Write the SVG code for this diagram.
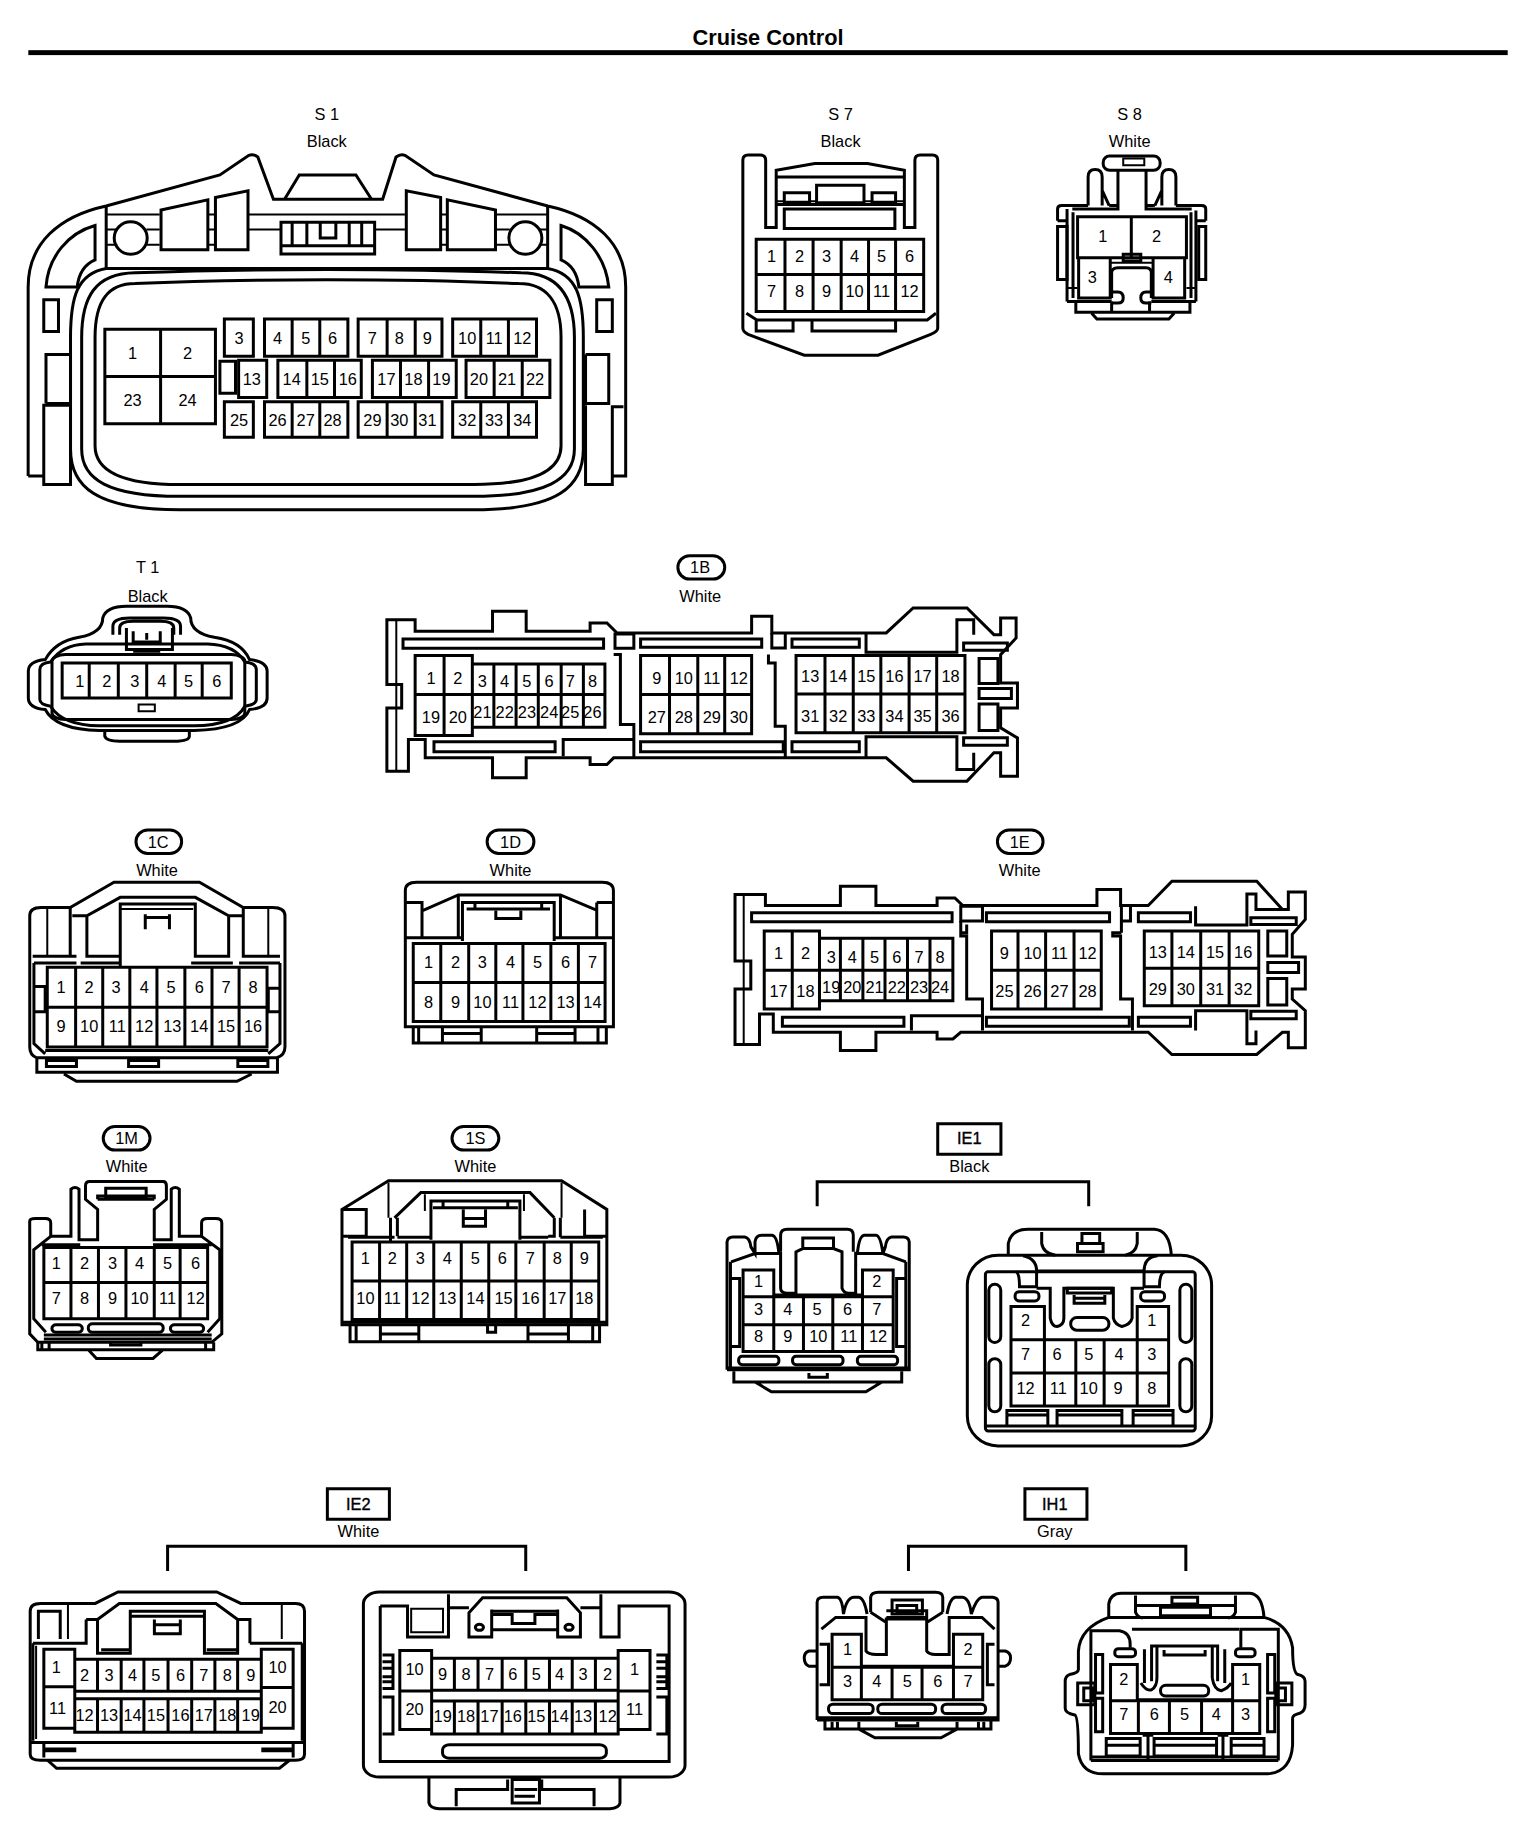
<svg xmlns="http://www.w3.org/2000/svg" width="1536" height="1838" viewBox="0 0 1536 1838">
<style>
path,rect,ellipse,circle{fill:none;stroke:#000;stroke-width:3;vector-effect:non-scaling-stroke}
.th{stroke-width:2}
.bg{fill:#fff;stroke:none}
text{font-family:"Liberation Sans",Arial,sans-serif;font-size:14px;text-anchor:middle;dominant-baseline:central;fill:#000}
.b{font-weight:bold;font-size:18.6px}
.tag{stroke:#000;stroke-width:.3px}
</style>
<rect class="bg" width="1536" height="1838"/>
<g transform="translate(1.4 0) scale(1.1704 1.1723)">
<g id="title"><text class="b" x="655" y="32">Cruise Control</text><rect x="23" y="42.800" width="1264" height="4.200" style="fill:#000;stroke:none"/></g>

<g id="S1">
<text x="278" y="97">S 1</text><text x="278" y="120">Black</text>
<g transform="matrix(.381 0 0 .288 0 0)">
<path d="M60 1410V850C60 720 130 640 235 610L490 518L555 460Q565 455 575 465L610 590H855L885 465Q895 455 905 460L970 518L1225 610C1330 640 1400 720 1400 850V1410H1370V1435H1310V1200M1310 1050V1195H1362V1050H1310M60 1410H95V1435H155V1200H95V1410M100 1195V1050H155V1195H100M1370 1200V1410M1370 1205H1395"/>
<path d="M235 610V795H1225V610"/>
<path class="th" d="M235 635H355M465 635H480M555 635H905M985 635H1000M1110 635H1225M235 680H260M325 680H355M465 680H480M555 680H625M840 680H905M985 680H1000M1110 680H1140M1205 680H1225M235 725H260M325 725H355M465 725H480M985 725H1000M1110 725H1140M1205 725H1225"/>
<ellipse cx="290" cy="705" rx="37" ry="48"/><ellipse cx="1175" cy="705" rx="37" ry="48"/>
<path d="M358 622L463 592V740H358ZM480 585L553 565V740H480ZM1108 622L1000 592V740H1108ZM985 585L908 565V740H985ZM635 590L668 518H795L830 590"/>
<path d="M627 658H837V752H627ZM627 728H837M652 658V728M685 658V728M780 658V728M808 658V728M715 658V705H750V658"/>
<path d="M210 668V770Q175 790 170 850H100C105 760 150 690 210 668ZM1255 668V770Q1290 790 1295 850H1362C1355 760 1310 690 1255 668Z"/>
<path d="M235 795C170 810 155 880 155 1000V1330C155 1440 210 1510 400 1510H1060C1250 1510 1305 1440 1305 1330V1000C1305 880 1290 810 1225 795"/>
<path d="M300 808C210 810 180 880 180 1000V1330C180 1420 240 1470 400 1470H1060C1220 1470 1285 1420 1285 1330V1000C1285 880 1250 808 1165 808C900 795 560 795 300 808Z"/>
<path d="M300 840C240 840 210 890 210 1000V1320C210 1390 260 1435 400 1435H1060C1200 1435 1255 1390 1255 1320V1000C1255 890 1220 840 1160 840C900 825 560 825 300 840Z"/>
<rect x="95" y="888" width="33" height="94"/><rect x="1335" y="888" width="35" height="94"/>
<path d="M232 975H480V1255H232ZM357 975V1255M232 1115H480"/>
<path d="M500 945H565V1055H500ZM590 945H777V1055H590ZM652 945V1055M714 945V1055M800 945H988V1055H800ZM865 945V1055M928 945V1055M1012 945H1200V1055H1012ZM1075 945V1055M1137 945V1055"/>
<path d="M490 1070H525V1165H490ZM532 1067H595V1177H532ZM620 1067H807V1177H620ZM685 1067V1177M747 1067V1177M832 1067H1020V1177H832ZM895 1067V1177M958 1067V1177M1042 1067H1230V1177H1042ZM1105 1067V1177M1168 1067V1177"/>
<path d="M500 1190H565V1295H500ZM590 1190H777V1295H590ZM652 1190V1295M714 1190V1295M800 1190H988V1295H800ZM865 1190V1295M928 1190V1295M1012 1190H1200V1295H1012ZM1075 1190V1295M1137 1190V1295"/>
</g>
<text x="112" y="301">1</text><text x="159" y="301">2</text><text x="112" y="341">23</text><text x="159" y="341">24</text>
<text x="203" y="288">3</text><text x="236" y="288">4</text><text x="260" y="288">5</text><text x="283" y="288">6</text><text x="317" y="288">7</text><text x="340" y="288">8</text><text x="364" y="288">9</text><text x="398" y="288">10</text><text x="421" y="288">11</text><text x="445" y="288">12</text>
<text x="214" y="323">13</text><text x="248" y="323">14</text><text x="272" y="323">15</text><text x="296" y="323">16</text><text x="329" y="323">17</text><text x="352" y="323">18</text><text x="376" y="323">19</text><text x="408" y="323">20</text><text x="432" y="323">21</text><text x="456" y="323">22</text>
<text x="203" y="358">25</text><text x="236" y="358">26</text><text x="260" y="358">27</text><text x="283" y="358">28</text><text x="317" y="358">29</text><text x="340" y="358">30</text><text x="364" y="358">31</text><text x="398" y="358">32</text><text x="421" y="358">33</text><text x="445" y="358">34</text>
</g>

<g id="S7">
<text x="717" y="97">S 7</text><text x="717" y="120">Black</text>
<g transform="matrix(.3 0 0 .287 596 67.7)">
<path d="M125 740V240Q125 225 140 225H175Q190 225 190 240V440H220V270L330 250H480L585 270V440H615V240Q615 225 630 225H665Q680 225 680 240V740Q680 750 660 758L510 820H300L140 758Q125 750 125 740Z"/>
<path d="M220 290H585M220 372H585"/>
<path class="th" d="M220 362H240M315 362H335M470 362H490M560 362H585"/>
<rect x="243" y="337" width="72" height="28"/><rect x="335" y="315" width="135" height="52"/><rect x="493" y="337" width="67" height="28"/><rect x="243" y="385" width="315" height="58"/>
<path d="M163 475H640V690H163ZM163 580H640M245 475V690M325 475V690M405 475V690M483 475V690M560 475V690"/>
<path d="M135 695L165 715H650L675 695M163 715V748H268V715M322 715V748H560V715"/>
</g>
<text x="658" y="218">1</text><text x="682" y="218">2</text><text x="705" y="218">3</text><text x="729" y="218">4</text><text x="752" y="218">5</text><text x="776" y="218">6</text>
<text x="658" y="248">7</text><text x="682" y="248">8</text><text x="705" y="248">9</text><text x="729" y="248">10</text><text x="752" y="248">11</text><text x="776" y="248">12</text>
</g>

<g id="S8">
<text x="964" y="97">S 8</text><text x="964" y="120">White</text>
<g transform="matrix(.3 0 0 .287 597 67.7)">
<rect x="1148" y="228" width="162" height="42" rx="18"/><rect class="th" x="1205" y="235" width="60" height="20"/>
<path d="M1190 270V385H1060M1270 270V385H1400M1105 375V290Q1105 268 1125 268Q1145 268 1145 290V375M1355 375V290Q1355 268 1335 268Q1315 268 1315 290V375M1165 375L1145 330M1295 375L1315 330"/>
<path d="M1018 420V385Q1018 375 1030 375H1105M1165 375H1190M1440 420V385Q1440 375 1428 375H1355M1270 375H1295M1018 420H1045M1440 420H1412"/>
<rect x="1018" y="437" width="27" height="158"/><rect x="1420" y="437" width="20" height="158"/>
<path d="M1045 385V660M1062 395V650M1412 390V660M1398 395V650"/>
<path d="M1075 408H1385V530H1075ZM1228 408V530M1078 530V650H1168V530M1290 530V650H1380V530"/>
<rect x="1205" y="520" width="50" height="20"/>
<path d="M1172 650V575Q1172 560 1190 560H1270Q1285 560 1285 575V650M1172 632H1190Q1205 632 1205 650Q1205 665 1190 665H1172M1285 632H1270Q1255 632 1255 650Q1255 665 1270 665H1285"/>
<path class="th" d="M1168 545H1290M1045 620H1075M1412 620H1385"/>
<path d="M1045 660H1172M1285 660H1412M1070 665V692H1395V665M1115 695L1130 712H1335L1350 695M1172 660V692M1280 660V692"/>
</g>
<text x="941" y="201">1</text><text x="987" y="201">2</text><text x="932" y="236">3</text><text x="997" y="236">4</text>
</g>

<g id="T1">
<text x="125" y="484">T 1</text><text x="125" y="508">Black</text>
<g transform="matrix(.578 0 0 .284 -3 459)">
<path d="M155 240Q160 205 190 205H250Q280 205 285 240Q285 285 320 298Q360 310 372 365Q398 370 398 400V480Q398 510 372 515Q360 575 290 578H150Q85 575 70 515Q45 510 45 480V400Q45 370 70 365Q85 310 120 298Q155 285 155 240Z"/>
<path d="M158 580V595Q160 610 180 610H260Q283 610 283 595V580"/>
<path d="M62 395Q62 375 78 372Q95 320 130 318H310Q350 320 365 372Q382 375 382 395V485Q382 500 365 505Q350 562 290 564H150Q95 562 78 505Q62 500 62 485Z"/>
<rect x="80" y="350" width="285" height="195" rx="20"/>
<path d="M95 375H345V480H95ZM135 375V480M178 375V480M220 375V480M262 375V480M302 375V480"/>
<rect class="th" x="208" y="500" width="24" height="20"/>
<path d="M170 290V265Q170 240 195 240H245Q270 240 270 265V290M180 290V270Q180 250 200 250H240Q260 250 260 270V290M190 270V335H258V270M200 280V312H240V280M220 285V305M200 340H240"/>
</g>
<text x="67" y="581">1</text><text x="90" y="581">2</text><text x="114" y="581">3</text><text x="137" y="581">4</text><text x="160" y="581">5</text><text x="184" y="581">6</text>
</g>

<g id="C1B">
<rect x="578" y="474" width="40" height="20" rx="10"/><text x="597" y="484">1B</text><text x="597" y="508">White</text>
<g transform="matrix(.575 0 0 .284 -3 459)">
<path d="M578 245H620V280H735V220H785V280H880V255H905L920 285H1120V235H1150V285H1320L1360 210H1440L1480 290H1490V240H1513V300L1490 350V435H1515V510H1490V570L1515 600V715H1490V645H1480L1440 730H1360L1320 660H915L905 680H880V660H785V720H735V660H635V605H610V700H578V510H600V440H578Z"/>
<path class="th" d="M592 245V700"/>
<rect x="602" y="303" width="298" height="28"/><rect x="955" y="303" width="180" height="25"/><rect x="1180" y="303" width="100" height="25"/>
<rect x="648" y="612" width="180" height="30"/><rect x="955" y="612" width="212" height="30"/><rect x="1180" y="612" width="100" height="30"/>
<path d="M1290 285V343H1425V245H1450V290M1290 660V597H1425V695H1450V645"/>
<rect x="1435" y="315" width="65" height="22"/><rect x="1435" y="600" width="65" height="22"/>
<rect x="917" y="288" width="28" height="43"/>
<path d="M915 350H925V560H945V660M1150 285V330H1170V285M1145 350V375H1155V565H1170V660M840 655V605H945"/>
<rect x="1458" y="362" width="28" height="75"/><rect x="1458" y="452" width="48" height="30"/><rect x="1458" y="498" width="28" height="80"/>
<path d="M620 353H705V378H902V568H705V593H620ZM620 470H902M663 353V593M705 378V568M737 378V568M770 378V568M803 378V568M837 378V568M870 378V568"/>
<path d="M955 353H1120V588H955ZM955 470H1120M998 353V588M1040 353V588M1080 353V588"/>
<path d="M1186 353H1437V585H1186ZM1186 468H1437M1229 353V585M1271 353V585M1312 353V585M1354 353V585M1395 353V585"/>
</g>
<text x="367" y="578">1</text><text x="390" y="578">2</text><text x="367" y="612">19</text><text x="390" y="612">20</text>
<text x="411" y="581">3</text><text x="430" y="581">4</text><text x="449" y="581">5</text><text x="468" y="581">6</text><text x="486" y="581">7</text><text x="505" y="581">8</text>
<text x="411" y="607">21</text><text x="430" y="607">22</text><text x="449" y="607">23</text><text x="468" y="607">24</text><text x="486" y="607">25</text><text x="505" y="607">26</text>
<text x="560" y="578">9</text><text x="583" y="578">10</text><text x="607" y="578">11</text><text x="630" y="578">12</text>
<text x="560" y="612">27</text><text x="583" y="612">28</text><text x="607" y="612">29</text><text x="630" y="612">30</text>
<text x="691" y="577">13</text><text x="715" y="577">14</text><text x="739" y="577">15</text><text x="763" y="577">16</text><text x="787" y="577">17</text><text x="811" y="577">18</text>
<text x="691" y="611">31</text><text x="715" y="611">32</text><text x="739" y="611">33</text><text x="763" y="611">34</text><text x="787" y="611">35</text><text x="811" y="611">36</text>
</g>

<g id="C1C">
<rect x="115" y="708" width="39" height="20" rx="10"/><text x="134" y="718">1C</text><text x="133" y="742">White</text>
<g transform="matrix(.3563 0 0 .287 0 698)">
<path d="M68 680V290Q68 265 95 265H165L270 190H475L580 265H650Q680 265 680 290V680Q680 705 660 712H85Q68 705 68 680Z"/>
<path d="M85 712V755H662V712M150 760L180 782H565L600 760"/>
<rect x="108" y="720" width="72" height="18"/><rect x="305" y="720" width="72" height="18"/><rect x="567" y="720" width="72" height="18"/>
<path d="M165 265V410M75 410H180M170 290H205L285 235H465L545 290H580M205 290V410H285M285 440V255H465V410H545V290M580 265V410H668"/>
<path class="th" d="M110 265V410M640 265V410M285 270H460"/>
<path d="M345 285V330M403 285V330M345 295H403"/>
<path d="M78 430H180M190 430H285M455 430H555M570 430H668M78 430V670L105 700M668 430V670L640 700M78 500H105V575H78M668 505H640V575H668M105 690H640"/>
<path d="M110 443H637V680H110ZM110 562H637M178 443V680M243 443V680M308 443V680M373 443V680M440 443V680M505 443V680M570 443V680"/>
</g>
<text x="51" y="842">1</text><text x="75" y="842">2</text><text x="98" y="842">3</text><text x="122" y="842">4</text><text x="145" y="842">5</text><text x="169" y="842">6</text><text x="192" y="842">7</text><text x="215" y="842">8</text>
<text x="51" y="875">9</text><text x="75" y="875">10</text><text x="99" y="875">11</text><text x="122" y="875">12</text><text x="146" y="875">13</text><text x="169" y="875">14</text><text x="192" y="875">15</text><text x="215" y="875">16</text>
</g>

<g id="C1D">
<rect x="415" y="708" width="40" height="20" rx="10"/><text x="435" y="718">1D</text><text x="435" y="742">White</text>
<g transform="matrix(.3563 0 0 .287 2 698)">
<path d="M963 620V215Q963 190 990 190H1435Q1462 190 1462 215V620ZM963 250H1003V355M1003 275L1090 228H1335L1420 272M1422 250H1462M1422 250V355M963 355H1100M1320 355H1462M1090 228V355M1335 228V355M1100 365V250H1320V365M1110 270H1310M1130 250V270M1290 250V270M1180 275V298H1240V275"/>
<path d="M982 372H1442V604H982ZM982 488H1442M1048 372V604M1115 372V604M1180 372V604M1245 372V604M1312 372V604M1378 372V604"/>
<path d="M982 620V668H1445V620M995 620V668M1052 620V668M1145 620V668M1052 640H1145M1278 620V668M1370 620V668M1278 640H1370M1425 620V668"/>
</g>
<text x="365" y="821">1</text><text x="388" y="821">2</text><text x="411" y="821">3</text><text x="435" y="821">4</text><text x="458" y="821">5</text><text x="482" y="821">6</text><text x="505" y="821">7</text>
<text x="365" y="855">8</text><text x="388" y="855">9</text><text x="411" y="855">10</text><text x="435" y="855">11</text><text x="458" y="855">12</text><text x="482" y="855">13</text><text x="505" y="855">14</text>
</g>

<g id="C1E">
<rect x="851" y="708" width="39" height="20" rx="10"/><text x="870" y="718">1E</text><text x="870" y="742">White</text>
<g transform="matrix(.3372 0 0 .283 614 698)">
<path d="M38 230H115V263H305V205H395V263H550V240H595L615 263H955V215H1015V263H1085L1145 190H1360L1425 275H1440V222H1483V305L1450 350V418H1483V515H1450V545L1483 580V692H1440V645H1425L1360 712H1145L1085 645H610L590 665H550V645H395V700H305V645H135V590H100V682H38V515H78V430H38Z"/>
<path class="th" d="M60 230V682"/>
<rect x="80" y="285" width="508" height="27"/><rect x="675" y="285" width="312" height="27"/><rect x="1060" y="285" width="132" height="27"/>
<rect x="158" y="600" width="308" height="27"/><rect x="675" y="600" width="362" height="27"/><rect x="1060" y="600" width="132" height="27"/>
<rect x="610" y="265" width="55" height="45"/>
<path d="M1017 263V345M1040 263V310H1017M1205 265V322H1335V228H1358V275H1425M1205 640V580H1335V680H1358V640"/>
<rect x="1345" y="300" width="115" height="20"/><rect x="1345" y="582" width="115" height="22"/>
<path d="M610 310V355H625V545H665V640M625 320V345H610M1017 345H995V355H1015V545H1045V640M485 640V595H665"/>
<rect x="1388" y="340" width="48" height="75"/><rect x="1388" y="435" width="78" height="30"/><rect x="1388" y="483" width="48" height="80"/>
<path d="M112 340H252V362H590V550H252V575H112ZM112 458H590M183 340V575M252 362V550M305 362V550M362 362V550M418 362V550M475 362V550M532 362V550"/>
<path d="M688 340H966V575H688ZM688 458H966M755 340V575M825 340V575M897 340V575"/>
<path d="M1075 340H1365V565H1075ZM1075 452H1365M1145 340V565M1218 340V565M1290 340V565"/>
</g>
<text x="664" y="813">1</text><text x="687" y="813">2</text><text x="709" y="816">3</text><text x="727" y="816">4</text><text x="746" y="816">5</text><text x="765" y="816">6</text><text x="784" y="816">7</text><text x="802" y="816">8</text>
<text x="664" y="845">17</text><text x="687" y="845">18</text><text x="709" y="842">19</text><text x="727" y="842">20</text><text x="746" y="842">21</text><text x="765" y="842">22</text><text x="784" y="842">23</text><text x="802" y="842">24</text>
<text x="857" y="813">9</text><text x="881" y="813">10</text><text x="904" y="813">11</text><text x="928" y="813">12</text>
<text x="857" y="845">25</text><text x="881" y="845">26</text><text x="904" y="845">27</text><text x="928" y="845">28</text>
<text x="988" y="812">13</text><text x="1012" y="812">14</text><text x="1037" y="812">15</text><text x="1061" y="812">16</text>
<text x="988" y="844">29</text><text x="1012" y="844">30</text><text x="1037" y="844">31</text><text x="1061" y="844">32</text>
</g>

<g id="C1M">
<rect x="87" y="961" width="40" height="20" rx="10"/><text x="107" y="971">1M</text><text x="107" y="995">White</text>
<g transform="matrix(.3455 0 0 .287 0 947)">
<path d="M70 330Q70 322 85 322H108Q122 322 122 335V375H172V235Q182 225 192 235V385H238V295L208 265V225Q208 212 218 212H400Q408 212 408 225V265L378 295V385H420V235Q430 225 440 235V375H495V335Q495 322 510 322H530Q545 322 545 335V665L520 690H90L70 665Z"/>
<path d="M238 265V255H378V265M238 265H378"/><rect x="258" y="232" width="100" height="30"/>
<path d="M122 375L80 415V620L110 660M495 375L540 415V620L510 660M100 400H195M375 400H520"/>
<path d="M105 408H510V620H105ZM105 512H510M172 408V620M240 408V620M308 408V620M378 408V620M442 408V620"/>
<rect x="125" y="638" width="75" height="22" rx="10"/><rect x="215" y="635" width="185" height="25" rx="10"/><rect x="418" y="638" width="82" height="22" rx="10"/>
<path d="M105 668H520M105 680H520"/>
<path d="M90 690V712H525V690M100 690V712M118 690V712M505 690V712M270 690V698H345V690M215 712L235 738H375L400 712"/>
</g>
<text x="47" y="1077">1</text><text x="71" y="1077">2</text><text x="95" y="1077">3</text><text x="118" y="1077">4</text><text x="142" y="1077">5</text><text x="166" y="1077">6</text>
<text x="47" y="1107">7</text><text x="71" y="1107">8</text><text x="95" y="1107">9</text><text x="118" y="1107">10</text><text x="142" y="1107">11</text><text x="166" y="1107">12</text>
</g>

<g id="C1S">
<rect x="385" y="961" width="40" height="20" rx="10"/><text x="405" y="971">1S</text><text x="405" y="995">White</text>
<g transform="matrix(.3455 0 0 .287 2.5 947)">
<path d="M835 295L950 210H1378L1490 295V638H835ZM835 295H895V375H835M1435 295V375H1490"/>
<path class="th" d="M950 215V320M1378 215V320M1040 250V300M1285 250V300"/>
<path d="M965 320L1030 245H1300L1360 320M955 320V390M972 320V375M1360 320V375H1345M1375 378V320M1055 385V270H1275V385M1060 290H1270M1085 270V290M1245 270V290M1135 295V345H1190V295M1135 322H1190M850 378H965M972 378H1055M1275 378H1345M1375 378H1480"/>
<path d="M860 392H1470V622H860ZM860 508H1470M928 392V622M995 392V622M1062 392V622M1130 392V622M1198 392V622M1265 392V622M1335 392V622M1402 392V622"/>
<path d="M835 630H1490M855 640V688H1472V640M870 640V688M1455 640V688M930 640V688M1025 640V688M930 665H1025M1295 640V688M1395 640V688M1295 665H1395M1195 640V660H1215V640"/>
</g>
<text x="311" y="1073">1</text><text x="334" y="1073">2</text><text x="358" y="1073">3</text><text x="381" y="1073">4</text><text x="405" y="1073">5</text><text x="428" y="1073">6</text><text x="452" y="1073">7</text><text x="475" y="1073">8</text><text x="498" y="1073">9</text>
<text x="311" y="1107">10</text><text x="334" y="1107">11</text><text x="358" y="1107">12</text><text x="381" y="1107">13</text><text x="405" y="1107">14</text><text x="429" y="1107">15</text><text x="452" y="1107">16</text><text x="475" y="1107">17</text><text x="498" y="1107">18</text>
</g>

<g id="IE1">
<rect x="800" y="958.500" width="54" height="26"/><text class="tag" x="827" y="971">IE1</text><text x="827" y="995">Black</text>
<path d="M697 1029V1008H929V1029"/>
<g transform="matrix(.2915 0 0 .283 606 949)">
<path d="M205 420V370Q205 352 225 352H400Q418 352 418 370V420M48 775V390Q50 375 65 375H100Q115 378 118 405L130 425V390Q132 370 150 370H180Q195 372 200 425M430 425Q435 372 450 370H485Q498 372 505 425L512 405Q515 378 530 375H565Q580 375 582 390V775H48"/>
<path d="M60 450L130 425H205M425 425H505L572 450M58 500H85V705H58M572 500H545V705H572M58 450V775M572 450V775M205 420V530Q205 545 225 545H250V420L270 410H360L385 420V530Q390 545 405 545H425V420M270 410V378H360V410"/>
<path d="M95 475H185V550H445V475H535V720H95ZM95 555H535M95 640H535M185 555V720M272 555V720M358 555V720M445 555V720"/>
<rect x="82" y="735" width="118" height="25" rx="10"/><rect x="240" y="735" width="148" height="25" rx="10"/><rect x="430" y="735" width="118" height="25" rx="10"/>
<path d="M48 770H582M68 780V812H560V780M288 785V798H342V785M130 812L178 842H455L502 812"/>
</g>
<g transform="matrix(.2915 0 0 .283 609 949)">
<path d="M862 430V395Q870 352 920 352H1290Q1335 355 1340 430"/>
<rect x="742" y="430" width="716" height="575" rx="90"/>
<path d="M960 360V395Q965 425 1000 430M1240 360V395Q1235 425 1205 430"/><rect x="1078" y="365" width="52" height="30"/><rect x="1065" y="395" width="75" height="25"/>
<rect x="795" y="480" width="615" height="480" rx="8"/>
<path d="M885 480Q895 485 895 525H945V478Q945 440 905 432M945 478H1260M1320 480Q1305 485 1305 525H1260V480Q1260 435 1300 432M945 530H985V620Q990 645 1005 645Q1025 640 1025 620V530H1170V620Q1175 640 1195 645Q1220 640 1225 620V530H1260"/>
<rect x="1035" y="530" width="130" height="14"/><path d="M1055 550V575H1145V550M1055 560H1145"/>
<rect x="1045" y="618" width="112" height="38" rx="18"/><rect x="882" y="540" width="70" height="28" rx="12"/><rect x="1250" y="540" width="70" height="28" rx="12"/>
<rect x="805" y="518" width="35" height="175" rx="17"/><rect x="805" y="742" width="35" height="160" rx="17"/><rect x="1365" y="518" width="35" height="175" rx="17"/><rect x="1365" y="742" width="35" height="160" rx="17"/>
<path d="M870 585H968V685H1240V585H1332V885H870ZM870 685H1332M870 785H1332M968 685V885M1060 685V885M1143 685V885M1240 685V885"/>
<path d="M858 942V898H978V942M858 912H978M1005 942V898H1195V942M1005 912H1195M1228 942V898H1345V942M1228 912H1345M795 945H1410"/>
</g>
<text x="647" y="1093">1</text><text x="748" y="1093">2</text><text x="647" y="1117">3</text><text x="672" y="1117">4</text><text x="697" y="1117">5</text><text x="723" y="1117">6</text><text x="748" y="1117">7</text>
<text x="647" y="1140">8</text><text x="672" y="1140">9</text><text x="698" y="1140">10</text><text x="724" y="1140">11</text><text x="749" y="1140">12</text>
<text x="875" y="1126">2</text><text x="983" y="1126">1</text><text x="875" y="1155">7</text><text x="902" y="1155">6</text><text x="929" y="1155">5</text><text x="955" y="1155">4</text><text x="983" y="1155">3</text>
<text x="875" y="1184">12</text><text x="903" y="1184">11</text><text x="929" y="1184">10</text><text x="954" y="1184">9</text><text x="983" y="1184">8</text>
</g>

<g id="IE2">
<rect x="278.500" y="1270" width="53" height="26"/><text class="tag" x="305" y="1283">IE2</text><text x="305" y="1306">White</text>
<path d="M142 1340V1319H448V1340"/>
<g transform="matrix(.3887 0 0 .287 .5 1261)">
<path d="M62 395Q62 372 85 372H205L255 338H472L525 372H645Q665 372 665 395V820Q665 838 645 838H85Q62 838 62 820Z"/>
<path d="M80 478V395H128V478M185 420V495M185 420H210L258 372H470L518 420H545V490M210 420V520H282V395H445V520H518V420M285 410H445M218 510H280M450 510H515M335 420V462H392V420M335 435H392M68 490H185M545 490H660M68 490V780M660 490V780"/>
<path class="th" d="M145 375V478M615 375V478M75 498V775"/>
<path d="M92 508H160V743H92ZM92 620H160M570 508H640V743H570ZM570 622H640M160 538H570V755H160ZM160 633H570M160 655H570"/>
<path d="M210 538V633M262 538V633M312 538V633M365 538V633M417 538V633M468 538V633M518 538V633M210 655V755M262 655V755M312 655V755M365 655V755M417 655V755M468 655V755M518 655V755"/>
<path d="M62 785H665M92 790V830M640 790V830M92 805H160V810H92M570 805H640M570 810H640M100 838L120 862H610L632 838"/>
</g>
<g transform="matrix(.3887 0 0 .287 3 1261)">
<rect x="788" y="338" width="707" height="550" rx="35"/>
<path d="M825 380V842H1460V380H1350V472H1310V345M825 380H885V472H975V345M975 385H1020M1265 385H1310"/>
<rect class="th" x="893" y="388" width="70" height="70"/>
<path d="M1020 400L1050 355H1235L1265 400V472H1215V450H1070V472H1020ZM1070 390V450M1215 390V450M1070 405H1115V432H1165V405H1215M1070 395H1215"/>
<circle cx="1043" cy="443" r="9"/><circle cx="1240" cy="443" r="9"/>
<path d="M830 525H853V625H830M830 545H853M830 565H853M830 590H853M830 605H853M1432 525H1455V625H1432M1432 545H1455M1432 565H1455M1432 590H1455M1432 605H1455M830 650H853V760H830M1432 650H1455V760H1432"/>
<path d="M868 512H938V747H868ZM868 632H938M1348 512H1418V747H1348ZM1348 632H1418M938 535H1348V760H938ZM938 630H1348M938 662H1348"/>
<path d="M988 535V630M1040 535V630M1093 535V630M1145 535V630M1197 535V630M1247 535V630M1298 535V630M988 662V760M1040 662V760M1093 662V760M1145 662V760M1197 662V760M1247 662V760M1298 662V760"/>
<rect x="962" y="792" width="360" height="40" rx="15"/>
<path d="M932 888V965Q935 982 955 982H1330Q1350 980 1352 965V888M992 975V925H1105V895M1295 975V925H1180V895"/>
<rect x="1115" y="895" width="60" height="70"/><path d="M1120 925H1170M1120 945H1165"/>
</g>
<text x="47" y="1422">1</text><text x="236" y="1422">10</text><text x="71" y="1429">2</text><text x="92" y="1429">3</text><text x="112" y="1429">4</text><text x="132" y="1429">5</text><text x="153" y="1429">6</text><text x="173" y="1429">7</text><text x="193" y="1429">8</text><text x="213" y="1429">9</text>
<text x="48" y="1457">11</text><text x="236" y="1456">20</text><text x="71" y="1463">12</text><text x="92" y="1463">13</text><text x="112" y="1463">14</text><text x="132" y="1463">15</text><text x="153" y="1463">16</text><text x="173" y="1463">17</text><text x="193" y="1463">18</text><text x="213" y="1463">19</text>
<text x="353" y="1424">10</text><text x="541" y="1424">1</text><text x="377" y="1428">9</text><text x="397" y="1428">8</text><text x="417" y="1428">7</text><text x="437" y="1428">6</text><text x="457" y="1428">5</text><text x="477" y="1428">4</text><text x="497" y="1428">3</text><text x="518" y="1428">2</text>
<text x="353" y="1458">20</text><text x="541" y="1458">11</text><text x="377" y="1464">19</text><text x="397" y="1464">18</text><text x="417" y="1464">17</text><text x="437" y="1464">16</text><text x="457" y="1464">15</text><text x="477" y="1464">14</text><text x="497" y="1464">13</text><text x="518" y="1464">12</text>
</g>

<g id="IH1">
<rect x="874.500" y="1270" width="53" height="26"/><text class="tag" x="900" y="1283">IH1</text><text x="900" y="1306">Gray</text>
<path d="M775 1340V1319H1012V1340"/>
<g transform="matrix(.305 0 0 .287 664 1262)">
<path d="M258 395V350Q260 335 280 335H440Q460 335 460 350V395M108 510H85Q72 515 72 530Q72 550 85 555H108M615 510H635Q650 515 650 530Q650 550 635 555H615M108 715V365Q108 350 125 350H165Q178 352 182 400Q190 352 210 350H225Q240 352 248 400M472 400Q480 352 495 350H515Q535 352 540 400Q555 352 570 350H600Q615 352 615 365V715H108"/>
<path d="M120 445L160 410H245V510Q250 520 275 520H302V415H415V510Q420 520 440 520H478V410H570L605 445M115 490H140V610H115M605 490H585V610H605M258 395L302 425M460 395L415 425M302 390H415V410H302"/>
<rect x="318" y="358" width="85" height="42"/><rect x="332" y="375" width="55" height="22"/>
<path d="M150 460H232V555H490V460H572V655H150ZM150 558H572M232 558V655M318 558V655M402 558V655M490 558V655"/>
<rect x="140" y="668" width="125" height="28" rx="12"/><rect x="278" y="668" width="162" height="28" rx="12"/><rect x="458" y="668" width="122" height="28" rx="12"/>
<path d="M108 708H615M130 718V742H595V718M150 720V742M165 720V742M560 720V742M575 720V742M225 720V742L270 768H455L500 742V720M330 720V732H390V720"/>
</g>
<g transform="matrix(.305 0 0 .287 664 1262)">
<path d="M925 410V370Q930 338 960 338H1320Q1355 340 1360 410M925 410Q845 440 840 510V565Q840 575 815 580Q803 585 803 600V680Q803 695 830 700Q840 705 840 815Q850 875 910 875H1370Q1435 870 1440 790V710Q1440 700 1460 695Q1475 690 1475 670V600Q1475 585 1455 580Q1440 575 1440 500Q1430 430 1360 410Z"/>
<path d="M1000 345V395Q1005 410 1020 412M1280 345V395Q1275 410 1260 412M1000 375H1280"/>
<rect x="1070" y="380" width="140" height="25"/><rect x="1102" y="350" width="72" height="20"/>
<path d="M875 835V450H955Q985 455 985 490V500M1295 500V445H1400V835M990 445H1290M875 835H1400M875 825H1400"/>
<rect x="942" y="503" width="58" height="24" rx="10"/><rect x="1280" y="503" width="55" height="24" rx="10"/>
<path d="M1045 600V495H1230V600M1060 495V590M1215 495V590M1080 507V522H1195V507M1015 605Q1030 630 1045 625Q1060 615 1060 590M1215 590Q1220 625 1240 628Q1260 620 1268 605M1025 505V605M1250 505V605"/>
<rect x="1070" y="612" width="135" height="32" rx="15"/>
<rect x="888" y="520" width="20" height="115"/><rect x="888" y="650" width="20" height="100"/><rect x="1370" y="520" width="20" height="115"/><rect x="1370" y="650" width="20" height="100"/>
<rect x="838" y="605" width="48" height="65"/><rect x="855" y="620" width="25" height="38"/><rect x="1393" y="605" width="45" height="65"/><rect x="1395" y="620" width="25" height="38"/>
<path d="M930 550H1005V655H1272V550H1348V755H930ZM930 658H1348M1008 658V755M1095 658V755M1185 658V755M1272 658V755"/>
<path d="M918 770H1013V822H918ZM918 790H1013M1052 770H1227V822H1052ZM1052 790H1227M1268 770H1360V822H1268ZM1268 790H1360M1020 760H1050M1020 835H1050M1035 760V835M1230 760H1260M1230 835H1260M1245 760V835"/>
</g>
<text x="723" y="1407">1</text><text x="826" y="1407">2</text><text x="723" y="1434">3</text><text x="748" y="1434">4</text><text x="774" y="1434">5</text><text x="800" y="1434">6</text><text x="826" y="1434">7</text>
<text x="959" y="1432">2</text><text x="1063" y="1432">1</text><text x="959" y="1462">7</text><text x="985" y="1462">6</text><text x="1011" y="1462">5</text><text x="1038" y="1462">4</text><text x="1063" y="1462">3</text>
</g>
</g>
</svg>
